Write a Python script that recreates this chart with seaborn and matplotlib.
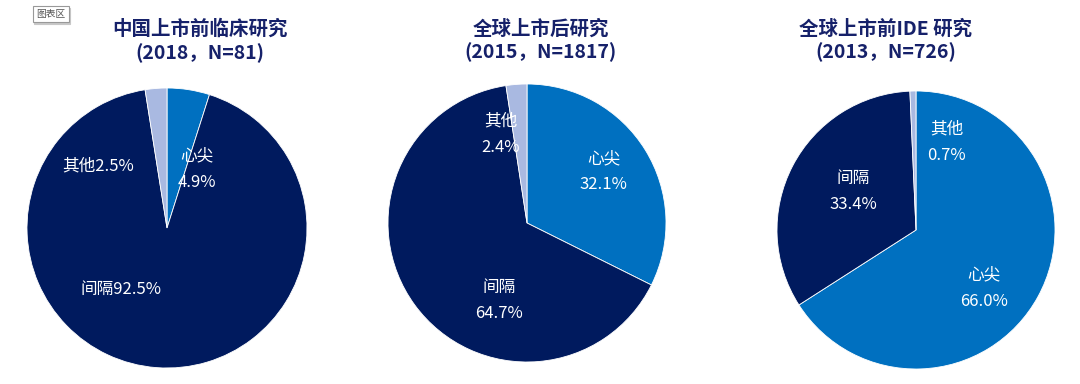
import matplotlib
matplotlib.use("Agg")
import matplotlib.pyplot as plt
import seaborn as sns

# 数据
categories = ["心尖", "间隔", "其他"]
titles = ["中国上市前临床研究\n(2018，N=81)",
          "全球上市后研究\n(2015，N=1817)",
          "全球上市前IDE 研究\n(2013，N=726)"]
share_cn_pre = [4.9, 92.5, 2.5]
share_global_post = [32.1, 64.7, 2.4]
share_global_ide = [66.0, 33.4, 0.7]

sns.set_theme(style="white")
plt.rcParams["font.family"] = ["Noto Sans CJK SC", "DejaVu Sans"]

colors = ["#0070C0", "#001A5E", "#A9B9E1"]
navy = "#16216A"

W, H = 1080, 384
fig = plt.figure(figsize=(W / 100, H / 100), dpi=100)


def pie_axes(cx, cy, r):
    # pixel centre/radius -> axes in figure fraction
    return fig.add_axes([(cx - r) / W, (H - cy - r) / H, 2 * r / W, 2 * r / H])


# 饼图位置 (像素) 和标签位置 (单位圆坐标); sep = 名称与百分比之间
layout = [
    dict(cx=167, cy=228, r=140, tx=200,
         pos=[(0.21, 0.42, "\n"), (-0.33, -0.44, ""), (-0.49, 0.44, "")]),
    dict(cx=527, cy=223, r=139, tx=541,
         pos=[(0.55, 0.37, "\n"), (-0.2, -0.56, "\n"), (-0.19, 0.64, "\n")]),
    dict(cx=916, cy=230, r=139, tx=886,
         pos=[(0.49, -0.42, "\n"), (-0.45, 0.28, "\n"), (0.22, 0.63, "\n")]),
]
series = [share_cn_pre, share_global_post, share_global_ide]

for vals, title, lay in zip(series, titles, layout):
    ax = pie_axes(lay["cx"], lay["cy"], lay["r"])
    ax.pie(vals, colors=colors, startangle=90, counterclock=False, radius=1,
           wedgeprops=dict(edgecolor="white", linewidth=0.6))
    ax.set_xlim(-1, 1)
    ax.set_ylim(-1, 1)
    ax.set_aspect("equal")
    ax.axis("off")
    for (x, y, sep), cat, v in zip(lay["pos"], categories, vals):
        ax.text(x, y, f"{cat}{sep}{v:.1f}%", ha="center", va="center",
                color="white", fontsize=12, linespacing=1.7)
    fig.text(lay["tx"] / W, 1 - 41 / H, title, ha="center", va="center",
             fontsize=14, fontweight="bold", color=navy, linespacing=1.25)

# 左上角 "图表区" 小标签 (带阴影)
fig.text(52 / W, 1 - 16 / H, "图表区", ha="center", va="center", fontsize=7,
         color="#C8C8C8",
         bbox=dict(boxstyle="square,pad=0.3", fc="#C8C8C8", ec="#C8C8C8", lw=0.8))
fig.text(51 / W, 1 - 14 / H, "图表区", ha="center", va="center", fontsize=7,
         color="#555555",
         bbox=dict(boxstyle="square,pad=0.3", fc="white", ec="#999999", lw=0.8))

fig.savefig("out.png", dpi=100)
